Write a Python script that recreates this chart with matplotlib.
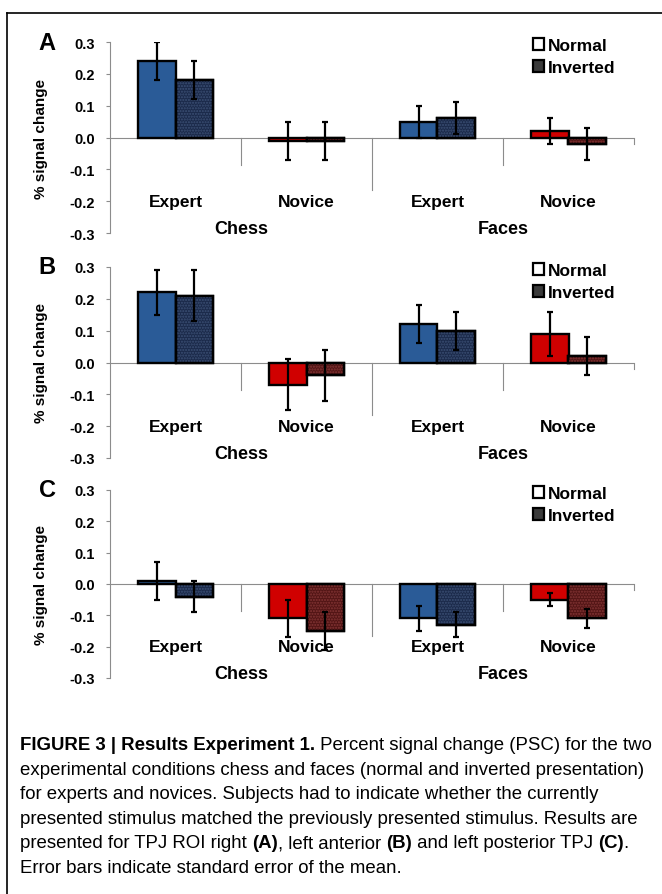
"""Percent signal change in TPJ ROIs for chess and face stimuli,
experts vs novices, normal vs inverted presentation (three panels)."""
import matplotlib
matplotlib.use("Agg")
import matplotlib.pyplot as plt
import numpy as np
from matplotlib.lines import Line2D
from matplotlib.patches import Patch

plt.rcParams["font.family"] = ["Liberation Sans", "DejaVu Sans"]
plt.rcParams["hatch.linewidth"] = 1.0

OUT = "out.png"

PANELS = ["A", "B", "C"]
CATEGORIES = ["Expert", "Novice", "Expert", "Novice"]
GROUPS = ["Chess", "Faces"]
CONDITIONS = ["Normal", "Inverted"]

# per panel: chess expert, chess novice, faces expert, faces novice
NORMAL_A = [0.24, -0.01, 0.05, 0.02]
INVERTED_A = [0.18, -0.01, 0.06, -0.02]
SEM_NORMAL_A = [0.06, 0.06, 0.05, 0.04]
SEM_INVERTED_A = [0.06, 0.06, 0.05, 0.05]

NORMAL_B = [0.22, -0.07, 0.12, 0.09]
INVERTED_B = [0.21, -0.04, 0.10, 0.02]
SEM_NORMAL_B = [0.07, 0.08, 0.06, 0.07]
SEM_INVERTED_B = [0.08, 0.08, 0.06, 0.06]

NORMAL_C = [0.01, -0.11, -0.11, -0.05]
INVERTED_C = [-0.04, -0.15, -0.13, -0.11]
SEM_NORMAL_C = [0.06, 0.06, 0.04, 0.02]
SEM_INVERTED_C = [0.05, 0.06, 0.04, 0.03]

DATA = {
    "A": (NORMAL_A, INVERTED_A, SEM_NORMAL_A, SEM_INVERTED_A),
    "B": (NORMAL_B, INVERTED_B, SEM_NORMAL_B, SEM_INVERTED_B),
    "C": (NORMAL_C, INVERTED_C, SEM_NORMAL_C, SEM_INVERTED_C),
}

# expert = blue, novice = red; inverted = darker + dotted texture
NORMAL_COLORS = {"Expert": "#2a5b97", "Novice": "#d00000"}
INVERTED_COLORS = {"Expert": "#1b2a4a", "Novice": "#521515"}
DOT_COLORS = {"Expert": "#3c5075", "Novice": "#843535"}

CAPTION = [
    [("FIGURE 3 | Results Experiment 1.", "bold"),
     (" Percent signal change (PSC) for the two", "normal")],
    [("experimental conditions chess and faces (normal and inverted presentation)", "normal")],
    [("for experts and novices. Subjects had to indicate whether the currently", "normal")],
    [("presented stimulus matched the previously presented stimulus. Results are", "normal")],
    [("presented for TPJ ROI right ", "normal"), ("(A)", "bold"),
     (", left anterior ", "normal"), ("(B)", "bold"),
     (" and left posterior TPJ ", "normal"), ("(C)", "bold"), (".", "normal")],
    [("Error bars indicate standard error of the mean.", "normal")],
]

W, H = 662, 895
AX_LEFT, AX_RIGHT = 110, 634
# (pixel y of the 0.3 tick, pixel y of the -0.3 tick)
AX_ROWS = {"A": (43, 234), "B": (268, 459), "C": (491, 679)}
BAR_W = 0.29
GRAY = "#8c8c8c"


def draw_panel(ax, letter):
    normal, inverted, sem_n, sem_i = DATA[letter]
    x = np.arange(len(CATEGORIES))
    for i, cat in enumerate(CATEGORIES):
        ax.bar(x[i] - BAR_W / 2, normal[i], BAR_W, color=NORMAL_COLORS[cat],
               edgecolor="black", linewidth=1.7, zorder=3)
        ax.bar(x[i] + BAR_W / 2, inverted[i], BAR_W, color=INVERTED_COLORS[cat],
               edgecolor="black", linewidth=1.7, zorder=3)
        # dotted texture on top of the inverted bar
        ax.bar(x[i] + BAR_W / 2, inverted[i], BAR_W, color="none",
               edgecolor=DOT_COLORS[cat], hatch="......", linewidth=0, zorder=3.5)
        ax.bar(x[i] + BAR_W / 2, inverted[i], BAR_W, color="none",
               edgecolor="black", linewidth=1.7, zorder=3.6)
    ax.errorbar(x - BAR_W / 2, normal, yerr=sem_n, fmt="none", ecolor="black",
                elinewidth=1.6, capsize=2.2, capthick=1.6, zorder=4)
    ax.errorbar(x + BAR_W / 2, inverted, yerr=sem_i, fmt="none", ecolor="black",
                elinewidth=1.6, capsize=2.2, capthick=1.6, zorder=4)

    ax.set_xlim(-0.5, len(CATEGORIES) - 0.5)
    ax.set_ylim(-0.3, 0.3)
    ax.set_yticks(np.arange(-0.3, 0.31, 0.1))
    ax.set_yticklabels([f"{v:.1f}" for v in np.arange(-0.3, 0.31, 0.1)],
                       fontsize=10.5, fontweight="bold")
    ax.tick_params(axis="y", length=3, width=0.8, color=GRAY, pad=8)
    ax.set_xticks([])
    for side in ["top", "right", "bottom"]:
        ax.spines[side].set_visible(False)
    ax.spines["left"].set_color(GRAY)
    ax.spines["left"].set_linewidth(0.8)

    # category axis at zero with excel-style dividers
    ax.axhline(0, color=GRAY, linewidth=0.8, zorder=2)
    for b in np.arange(0.5, len(CATEGORIES) - 0.5):
        depth = -0.165 if b == 1.5 else -0.085
        ax.plot([b, b], [0, depth], color=GRAY, linewidth=0.8, clip_on=False)
    ax.plot([len(CATEGORIES) - 0.5] * 2, [0, -0.02], color=GRAY,
            linewidth=0.8, clip_on=False)

    for xi, cat in zip(x, CATEGORIES):
        ax.text(xi, -0.2, cat, ha="center", va="center", fontsize=12.5,
                fontweight="bold")
    for g, name in enumerate(GROUPS):
        ax.text(2 * g + 0.5, -0.287, name, ha="center", va="center",
                fontsize=13, fontweight="bold", clip_on=False)

    ax.set_ylabel("% signal change", fontsize=11, fontweight="bold")
    ax.yaxis.set_label_coords((48 - AX_LEFT) / (AX_RIGHT - AX_LEFT), 0.5)
    ax.text((47 - AX_LEFT) / (AX_RIGHT - AX_LEFT), 1.0, letter,
            transform=ax.transAxes, ha="center", va="center", fontsize=17,
            fontweight="bold")

    handles = [
        Patch(facecolor="white", edgecolor="black", linewidth=1.6),
        Patch(facecolor="#3a3a3a", edgecolor="black", linewidth=1.6),
    ]
    ax.legend(handles, CONDITIONS, loc="upper left",
              bbox_to_anchor=((533 - AX_LEFT) / (AX_RIGHT - AX_LEFT), 1.02),
              frameon=False, borderpad=0, borderaxespad=0, handlelength=0.65,
              handleheight=0.65, handletextpad=0.2, labelspacing=0.4,
              prop={"size": 12.5, "weight": "bold"})


def draw_caption(fig, x0, y0, step, fontsize):
    renderer = fig.canvas.get_renderer()
    for row, segments in enumerate(CAPTION):
        x = x0
        y = 1 - (y0 + row * step) / H
        for text, weight in segments:
            t = fig.text(x, y, text, fontsize=fontsize, fontweight=weight,
                         ha="left", va="center")
            bb = t.get_window_extent(renderer)
            x += bb.width / W


def main():
    fig = plt.figure(figsize=(W / 100, H / 100), dpi=100)
    for letter in PANELS:
        top, bottom = AX_ROWS[letter]
        ax = fig.add_axes([AX_LEFT / W, 1 - bottom / H,
                           (AX_RIGHT - AX_LEFT) / W, (bottom - top) / H])
        draw_panel(ax, letter)

    # frame around the figure (left and top edges)
    fig.add_artist(Line2D([7 / W, 7 / W], [0, 1 - 14 / H], color="black",
                          linewidth=1.2, transform=fig.transFigure))
    fig.add_artist(Line2D([7 / W, 1], [1 - 14 / H, 1 - 14 / H], color="black",
                          linewidth=1.2, transform=fig.transFigure))

    draw_caption(fig, 20 / W, 746, 24.5, fontsize=13.4)
    fig.savefig(OUT, dpi=100)


if __name__ == "__main__":
    main()
